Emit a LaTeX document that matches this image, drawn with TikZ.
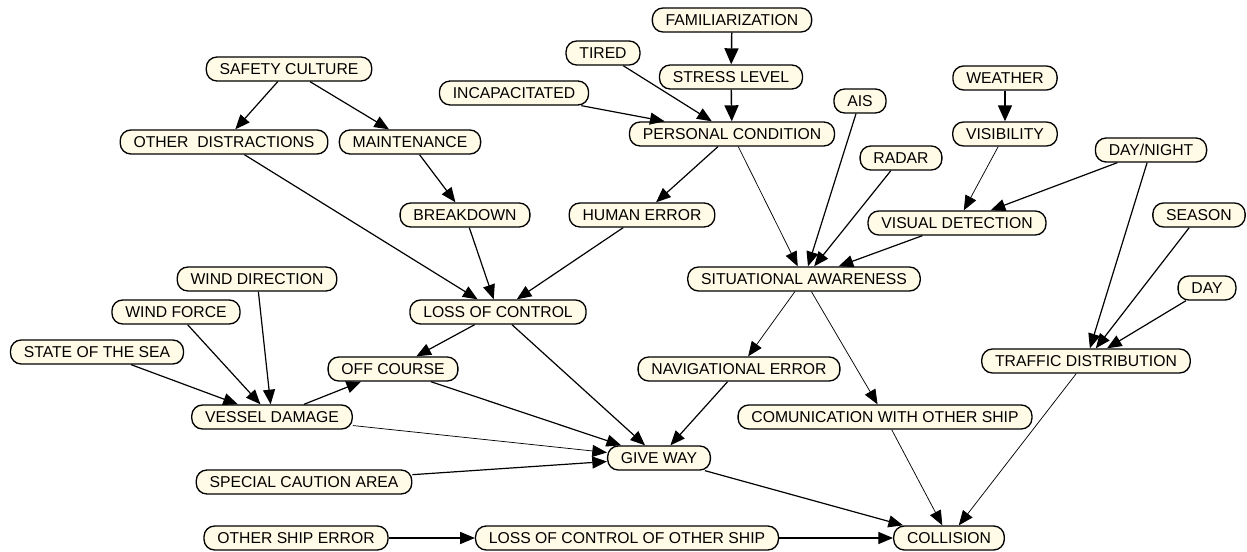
\documentclass[tikz,border=0pt]{standalone}
\usepackage{fontspec}
\setmainfont{Liberation Sans}
\usetikzlibrary{arrows.meta}
\definecolor{NodeFill}{HTML}{FFFBE6}

\begin{document}
\begin{tikzpicture}[x=0.75pt, y=-0.75pt,
    factor/.style={draw, line width=1pt, fill=NodeFill, rounded corners=8pt,
        minimum height=18pt, inner xsep=10pt, inner ysep=0pt,
        font=\fontsize{11.8}{14}\selectfont},
    link/.style={line width=0.9pt, -{Triangle[length=11pt, width=9pt]}},
    weak/.style={line width=0.55pt, -{Triangle[length=11pt, width=9pt]}},
    strong/.style={line width=1.1pt, -{Triangle[length=12pt, width=10.5pt]}}]
    \useasboundingbox (0,0) rectangle (1247,552);

    % Top row: personal factors
    \node[factor] (famil) at (732,20) {FAMILIARIZATION};
    \node[factor] (tired) at (603,53) {TIRED};
    \node[factor] (stress) at (731,77) {STRESS LEVEL};
    \node[factor] (incap) at (514,93) {INCAPACITATED};
    \node[factor] (safety) at (289,69) {SAFETY CULTURE};
    \node[factor] (ais) at (860,101) {AIS};
    \node[factor] (weather) at (1005,78) {WEATHER};

    % Second level
    \node[factor] (personal) at (732,134) {PERSONAL CONDITION};
    \node[factor] (distract) at (224,142) {OTHER\ \ DISTRACTIONS};
    \node[factor] (maint) at (410,142) {MAINTENANCE};
    \node[factor] (visib) at (1005,134) {VISIBILITY};
    \node[factor] (radar) at (901,158) {RADAR};
    \node[factor] (daynight) at (1151,150) {DAY/NIGHT};

    % Middle
    \node[factor] (breakdown) at (465,215) {BREAKDOWN};
    \node[factor] (human) at (642,215) {HUMAN ERROR};
    \node[factor] (visual) at (957,223) {VISUAL DETECTION};
    \node[factor] (season) at (1199,215) {SEASON};
    \node[factor] (aware) at (804,279) {SITUATIONAL AWARENESS};
    \node[factor] (winddir) at (257,279) {WIND DIRECTION};
    \node[factor] (day) at (1207,288) {DAY};
    \node[factor] (lossctrl) at (498,312) {LOSS OF CONTROL};
    \node[factor] (windforce) at (176,312) {WIND FORCE};
    \node[factor] (sea) at (97,352) {STATE OF THE SEA};
    \node[factor] (offcourse) at (393,369) {OFF COURSE};
    \node[factor] (naverr) at (739,369) {NAVIGATIONAL ERROR};
    \node[factor] (traffic) at (1086,361) {TRAFFIC DISTRIBUTION};

    % Lower part
    \node[factor] (damage) at (272,417) {VESSEL DAMAGE};
    \node[factor] (comm) at (885,417) {COMUNICATION WITH OTHER SHIP};
    \node[factor] (giveway) at (659,458) {GIVE WAY};
    \node[factor] (caution) at (304,482) {SPECIAL CAUTION AREA};
    \node[factor] (othererr) at (296,538) {OTHER SHIP ERROR};
    \node[factor] (otherloss) at (627,538) {LOSS OF CONTROL OF OTHER SHIP};
    \node[factor] (collision) at (949,538) {COLLISION};

    % Arcs
    \draw[strong] (famil) -- (stress);
    \draw[strong] (stress) -- (personal);
    \draw[link] (tired) -- (personal);
    \draw[link] (incap) -- (personal);
    \draw[link] (safety) -- (distract);
    \draw[link] (safety) -- (maint);
    \draw[link] (maint) -- (breakdown);
    \draw[link] (distract) -- (lossctrl);
    \draw[link] (breakdown) -- (lossctrl);
    \draw[link] (human) -- (lossctrl);
    \draw[link] (personal) -- (human);
    \draw[weak] (personal) -- (aware);
    \draw[link] (ais) -- (aware);
    \draw[link] (radar) -- (aware);
    \draw[link] (visual) -- (aware);
    \draw[strong] (weather) -- (visib);
    \draw[weak] (visib) -- (visual);
    \draw[link] (daynight) -- (visual);
    \draw[link] (daynight) -- (traffic);
    \draw[link] (season) -- (traffic);
    \draw[link] (day) -- (traffic);
    \draw[weak] (aware) -- (naverr);
    \draw[weak] (aware) -- (comm);
    \draw[link] (lossctrl) -- (offcourse);
    \draw[link] (lossctrl) -- (giveway);
    \draw[link] (winddir) -- (damage);
    \draw[link] (windforce) -- (damage);
    \draw[link] (sea) -- (damage);
    \draw[link] (damage) -- (offcourse);
    \draw[weak] (damage) -- (giveway);
    \draw[link] (offcourse) -- (giveway);
    \draw[link] (naverr) -- (giveway);
    \draw[link] (caution) -- (giveway);
    \draw[link] (giveway) -- (collision);
    \draw[weak] (comm) -- (collision);
    \draw[weak] (traffic) -- (collision);
    \draw[link] (othererr) -- (otherloss);
    \draw[link] (otherloss) -- (collision);
\end{tikzpicture}
\end{document}
